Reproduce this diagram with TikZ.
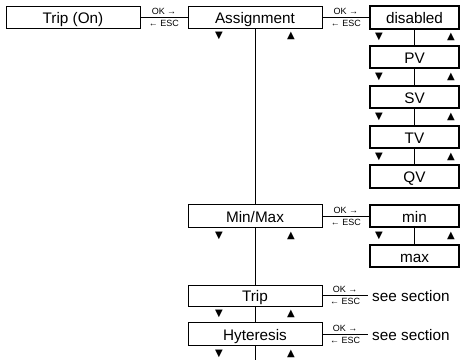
\documentclass[tikz,border=0pt]{standalone}
\usepackage{fontspec}
\setmainfont{Liberation Sans}
\newfontfamily\symfont{DejaVu Sans}
\begin{document}
\begin{tikzpicture}[x=1pt,y=-1pt,
  boxtext/.style={font=\fontsize{15.3}{15.3}\selectfont,text height=12.5pt,text depth=0pt},
  lbox/.style={draw,line width=0.7pt,minimum width=134pt,minimum height=22.5pt,inner sep=0pt,boxtext},
  rbox/.style={draw,line width=1.4pt,minimum width=89pt,minimum height=22pt,inner sep=0pt,boxtext},
  conn/.style={line width=0.7pt},
  small/.style={inner sep=0pt,font=\fontsize{9}{9}\selectfont},
  tri/.style={inner sep=0pt,font=\symfont\fontsize{10}{10}\selectfont}]
\useasboundingbox (0,0) rectangle (462,360);
% left column
\node[lbox] (trip0) at (73,17.5) {Trip (On)};
\node[lbox] (assign) at (255,17.5) {Assignment};
\node[lbox] (minmax) at (255,216) {Min/Max};
\node[lbox,minimum height=21pt] (trip) at (255,295.5) {Trip};
\node[lbox] (hyst) at (255,334) {Hyteresis};
\coordinate (bot) at (255,360);
% right column
\node[rbox,minimum height=23pt] (dis) at (414.5,17.5) {disabled};
\node[rbox] (pv) at (414.5,57) {PV};
\node[rbox] (sv) at (414.5,97) {SV};
\node[rbox] (tv) at (414.5,137) {TV};
\node[rbox,minimum height=23pt] (qv) at (414.5,176.5) {QV};
\node[rbox] (mn) at (414.5,216) {min};
\node[rbox] (mx) at (414.5,256) {max};
\node[anchor=west,inner xsep=4pt,inner ysep=0pt,boxtext] (see1) at (368,295.5) {see section};
\node[anchor=west,inner xsep=4pt,inner ysep=0pt,boxtext] (see2) at (368,334) {see section};
% vertical connectors
\draw[conn] (assign) -- (minmax);
\draw[conn] (minmax) -- (trip);
\draw[conn] (trip) -- (hyst);
\draw[conn] (hyst) -- (bot);
\draw[conn] (dis) -- (pv);
\draw[conn] (pv) -- (sv);
\draw[conn] (sv) -- (tv);
\draw[conn] (tv) -- (qv);
\draw[conn] (mn) -- (mx);
% horizontal connectors
\draw[conn] (trip0) -- node[small,above=2.5pt] (ok1) {OK →} node[small,below=2.5pt] (esc1) {← ESC} (assign);
\draw[conn] (assign) -- node[small,above=2.5pt] (ok2) {OK →} node[small,below=2.5pt] (esc2) {← ESC} (dis);
\draw[conn] (minmax) -- node[small,above=2.5pt] (ok3) {OK →} node[small,below=2.5pt] (esc3) {← ESC} (mn);
\draw[conn] (trip.east) -- node[small,above=2.5pt] (ok4) {OK →} node[small,below=2.5pt] (esc4) {← ESC} (see1.west);
\draw[conn] (hyst.east) -- node[small,above=2.5pt] (ok5) {OK →} node[small,below=2.5pt] (esc5) {← ESC} (see2.west);
% triangles
\foreach \y/\n in {36/a,236/b,314/c,354/d}{
  \node[tri] (dn\n) at (219,\y) {▼};
  \node[tri] (up\n) at (291,\y) {▲};
}
\foreach \y/\n in {37/e,77/f,117/g,157/h,236/i}{
  \node[tri] (dn\n) at (379,\y) {▼};
  \node[tri] (up\n) at (451,\y) {▲};
}
\end{tikzpicture}
\end{document}
